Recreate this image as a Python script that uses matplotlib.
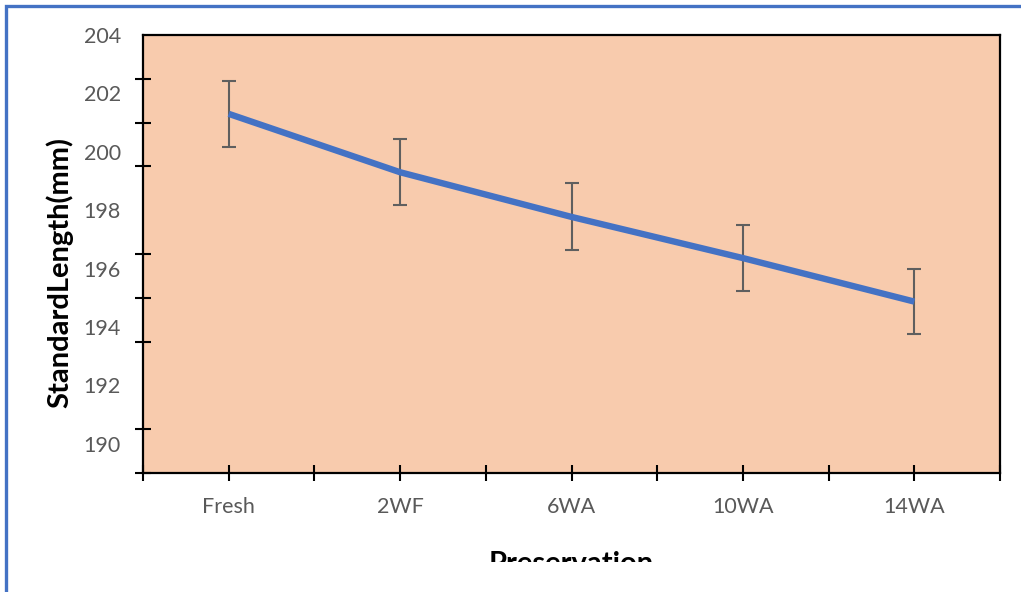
import matplotlib
matplotlib.use("Agg")
import matplotlib.pyplot as plt
from matplotlib.patches import Rectangle
from matplotlib.transforms import Bbox, TransformedBbox
import numpy as np

# Standard length over the preservation period
stages = ["Fresh", "2WF", "6WA", "10WA", "14WA"]
mean_length = [201.3, 199.3, 197.77, 196.36, 194.87]
err_length = [1.13, 1.13, 1.15, 1.13, 1.11]
y_labels = [190, 192, 194, 196, 198, 200, 202, 204]

W, H = 1021, 592
fig = plt.figure(figsize=(W / 100, H / 100), dpi=100)
fig.patch.set_facecolor("white")

plt.rcParams["font.family"] = ["Lato", "DejaVu Sans"]

ax = fig.add_axes([143 / W, 1 - 473 / H, (1000 - 143) / W, (473 - 35) / H])
ax.set_facecolor("#F8CBAD")

x = np.arange(len(stages))
ax.errorbar(x, mean_length, yerr=err_length, fmt="none", ecolor="#5F5F5F",
            elinewidth=1.5, capsize=5, capthick=1.5, zorder=2)
ax.plot(x, mean_length, color="#4472C4", lw=4.6, solid_capstyle="butt", zorder=3)

ax.set_xlim(-0.5, len(stages) - 0.5)
ax.set_ylim(189, 204)

# labelled positions carry no marks; marks sit on their own grid
ax.set_xticks(x)
ax.set_xticklabels(stages)
ax.set_xticks(np.arange(-0.5, len(stages), 0.5), minor=True)
ax.set_yticks(y_labels)
ax.set_yticklabels([str(v) for v in y_labels])
ax.set_yticks(np.arange(189, 204.01, 1.5), minor=True)

ax.tick_params(axis="x", which="major", direction="inout", length=11, width=1.5,
               colors="black", labelcolor="#595959", labelsize=15.5, pad=12)
ax.tick_params(axis="x", which="minor", direction="inout", length=11, width=1.5,
               colors="black")
ax.tick_params(axis="y", which="major", length=0, labelcolor="#595959",
               labelsize=15.5, pad=16)
ax.tick_params(axis="y", which="minor", direction="inout", length=11, width=1.5,
               colors="black")

for s in ax.spines.values():
    s.set_color("black")
    s.set_linewidth(1.6)

fig.text(60 / W, 1 - 272 / H, "StandardLength(mm)", rotation=90, ha="center",
         va="center", fontsize=21, fontweight="bold", color="black")

xt = fig.text(571 / W, 1 - 551 / H, "Preservation", ha="center", va="top",
              fontsize=21, fontweight="bold", color="black")
xt.set_clip_box(TransformedBbox(Bbox([[0, (H - 562) / H], [1, 1]]), fig.transFigure))
xt.set_clip_on(True)

# outer chart frame
fig.patches.append(Rectangle((5.5 / W, -0.1), 1.2, 1 - 5.5 / H + 0.1,
                             transform=fig.transFigure, fill=False,
                             edgecolor="#4472C4", lw=2.4, zorder=10))

fig.savefig("out.png", dpi=100, facecolor="white")
